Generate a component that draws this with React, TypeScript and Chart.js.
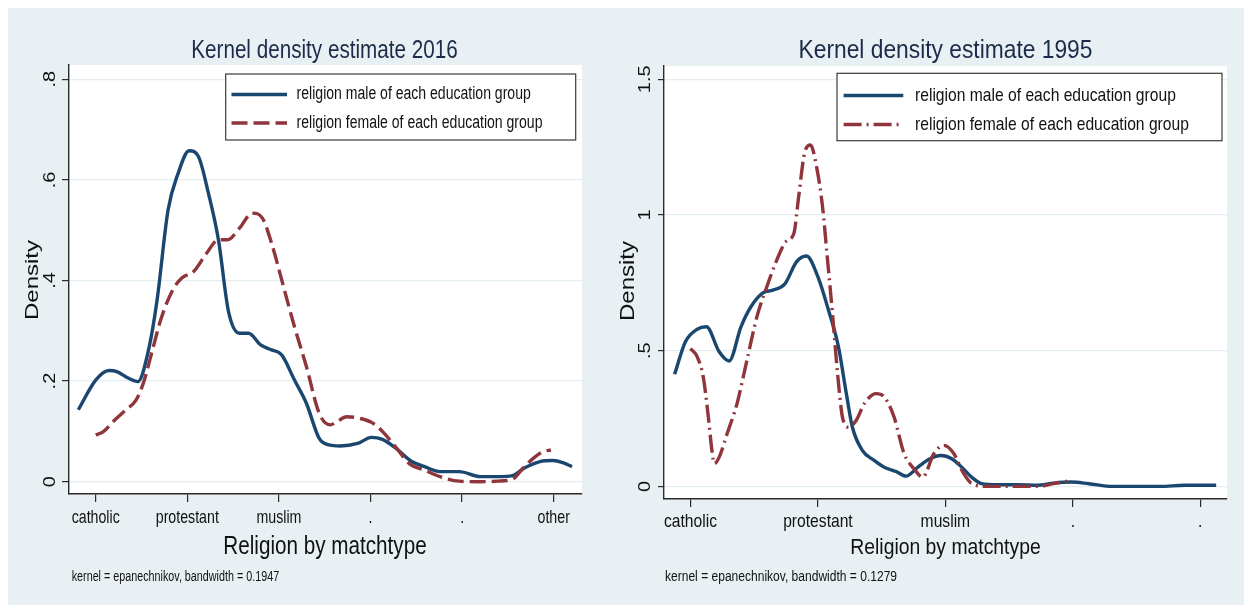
import React, { useEffect, useRef } from "react";
import { Chart, registerables } from "chart.js";

Chart.register(...registerables);

// ---------- data: 2016 panel ----------
const categories2016 = ["catholic", "protestant", "muslim", ".", ".", "other"];
const xTicks2016 = [1, 2, 3, 4, 5, 6];
const yTicks2016 = [0, 0.2, 0.4, 0.6, 0.8];
const yTickLabels2016 = ["0", ".2", ".4", ".6", ".8"];

const male2016X = [0.81, 1.0, 1.146, 1.23, 1.355, 1.46, 1.585, 1.67, 1.79, 1.9, 2.02, 2.12, 2.23, 2.34, 2.45, 2.57, 2.67, 2.8, 2.92, 3.03, 3.17, 3.3, 3.44, 3.55, 3.67, 3.86, 4.01, 4.13, 4.28, 4.45, 4.59, 4.76, 4.97, 5.2, 5.39, 5.55, 5.68, 5.85, 5.99, 6.1, 6.2];
const male2016Y = [0.143, 0.202, 0.221, 0.219, 0.206, 0.199, 0.269, 0.361, 0.54, 0.613, 0.658, 0.647, 0.574, 0.481, 0.338, 0.295, 0.295, 0.272, 0.262, 0.252, 0.202, 0.156, 0.086, 0.073, 0.071, 0.076, 0.088, 0.084, 0.066, 0.04, 0.03, 0.02, 0.02, 0.01, 0.01, 0.012, 0.027, 0.04, 0.042, 0.038, 0.03];

const female2016X = [1.0, 1.08, 1.21, 1.33, 1.44, 1.52, 1.63, 1.71, 1.84, 1.94, 2.07, 2.21, 2.34, 2.44, 2.57, 2.71, 2.82, 2.92, 3.05, 3.17, 3.3, 3.44, 3.56, 3.63, 3.74, 3.88, 4.03, 4.15, 4.3, 4.43, 4.59, 4.76, 4.97, 5.18, 5.39, 5.55, 5.68, 5.8, 5.89, 5.97];
const female2016Y = [0.093, 0.099, 0.123, 0.143, 0.162, 0.196, 0.269, 0.322, 0.381, 0.405, 0.418, 0.454, 0.481, 0.481, 0.504, 0.534, 0.524, 0.474, 0.388, 0.308, 0.229, 0.136, 0.113, 0.119, 0.129, 0.126, 0.116, 0.096, 0.063, 0.035, 0.023, 0.01, 0.001, 0.0, 0.001, 0.005, 0.03, 0.05, 0.06, 0.063];

// ---------- data: 1995 panel ----------
const categories1995 = ["catholic", "protestant", "muslim", ".", "."];
const xTicks1995 = [1, 2, 3, 4, 5];
const yTicks1995 = [0, 0.5, 1, 1.5];
const yTickLabels1995 = ["0", ".5", "1", "1.5"];

const male1995X = [0.875, 0.96, 1.053, 1.125, 1.225, 1.303, 1.396, 1.474, 1.568, 1.646, 1.739, 1.833, 1.911, 2.0, 2.083, 2.161, 2.223, 2.27, 2.348, 2.441, 2.52, 2.613, 2.691, 2.785, 2.878, 2.966, 3.05, 3.128, 3.206, 3.284, 3.409, 3.565, 3.72, 3.846, 3.986, 4.126, 4.313, 4.5, 4.688, 4.875, 5.125];
const male1995Y = [0.413, 0.533, 0.579, 0.588, 0.496, 0.462, 0.588, 0.662, 0.713, 0.723, 0.745, 0.828, 0.849, 0.772, 0.649, 0.514, 0.342, 0.219, 0.133, 0.096, 0.071, 0.055, 0.038, 0.071, 0.102, 0.114, 0.102, 0.071, 0.034, 0.01, 0.006, 0.006, 0.004, 0.012, 0.016, 0.01, 0.0, 0.0, 0.0, 0.004, 0.004];

const female1995X = [1.0, 1.053, 1.1, 1.137, 1.168, 1.187, 1.225, 1.287, 1.365, 1.443, 1.521, 1.599, 1.677, 1.749, 1.811, 1.849, 1.895, 1.942, 1.989, 2.036, 2.073, 2.114, 2.154, 2.192, 2.239, 2.301, 2.364, 2.457, 2.52, 2.597, 2.676, 2.754, 2.822, 2.91, 2.988, 3.066, 3.144, 3.222, 3.346, 3.534, 3.72, 3.846, 3.97];
const female1995Y = [0.508, 0.477, 0.403, 0.268, 0.133, 0.084, 0.108, 0.194, 0.305, 0.465, 0.625, 0.736, 0.834, 0.902, 0.932, 1.068, 1.228, 1.258, 1.178, 1.031, 0.846, 0.637, 0.416, 0.256, 0.219, 0.244, 0.305, 0.342, 0.33, 0.256, 0.121, 0.065, 0.034, 0.121, 0.151, 0.121, 0.047, 0.006, 0, 0, 0, 0.01, 0.02];

const maleLabel = "religion male of each education group";
const femaleLabel = "religion female of each education group";

// ---------- styles ----------
const BG = "#e8f0f3";
const NAVY = "#1a476f";
const MAROON = "#90353b";
const TITLE_COLOR = "#1c2b4a";
const TEXT = "#111111";
const AXIS = "#2a2a2a";
const GRID = "#e3edf2";
const SANS = '"Liberation Sans", Arial, Helvetica, sans-serif';

type Panel = {
  width: number;
  height: number;
  sx: number;
  title: string;
  titleX: number;
  titleY: number;
  titleSize: number;
  categories: string[];
  xTicks: number[];
  yTicks: number[];
  yTickLabels: string[];
  xMin: number;
  xMax: number;
  yMin: number;
  yMax: number;
  maleX: number[];
  maleY: number[];
  femaleX: number[];
  femaleY: number[];
  femaleDash: number[];
  pad: { left: number; top: number; right: number; bottom: number };
  yWidth: number;
  xHeight: number;
  yTickLen: number;
  yLabelX: number;
  xLabelY: number;
  xTickFont: number;
  densityX: number;
  densityY: number;
  xTitleX: number;
  xTitleY: number;
  xTitleSize: number;
  note: string;
  noteX: number;
  noteY: number;
  noteSize: number;
  legendBox: { x: number; y: number; w: number; h: number };
  legendSample: [number, number];
  legendRows: [number, number];
  legendTextX: number;
  legendSize: number;
};

function drawText(
  ctx: CanvasRenderingContext2D,
  text: string,
  x: number,
  y: number,
  size: number,
  sx: number,
  align: CanvasTextAlign,
  baseline: CanvasTextBaseline,
  color: string,
  rotate = false
) {
  ctx.save();
  ctx.translate(x, y);
  ctx.scale(sx, 1);
  if (rotate) ctx.rotate(-Math.PI / 2);
  ctx.font = `${size}px ${SANS}`;
  ctx.fillStyle = color;
  ctx.textAlign = align;
  ctx.textBaseline = baseline;
  ctx.fillText(text, 0, 0);
  ctx.restore();
}

function makeDecor(p: Panel) {
  return {
    id: "decor",
    beforeDraw(chart: any) {
      const { ctx, chartArea: a } = chart;
      ctx.save();
      ctx.fillStyle = "#ffffff";
      ctx.fillRect(a.left, a.top, a.right - a.left, a.bottom - a.top);
      ctx.restore();
    },
    afterDraw(chart: any) {
      const ctx: CanvasRenderingContext2D = chart.ctx;
      const xs = chart.scales.x;
      const ys = chart.scales.y;

      // tick labels placed through the chart's own scales
      p.xTicks.forEach((v, i) => {
        drawText(ctx, p.categories[i], xs.getPixelForValue(v), p.xLabelY, p.xTickFont, p.sx, "center", "middle", TEXT);
      });
      p.yTicks.forEach((v, i) => {
        drawText(ctx, p.yTickLabels[i], p.yLabelX, ys.getPixelForValue(v), 20, p.sx, "center", "middle", TEXT, true);
      });

      drawText(ctx, p.title, p.titleX, p.titleY, p.titleSize, p.sx, "center", "alphabetic", TITLE_COLOR);
      drawText(ctx, "Density", p.densityX, p.densityY, 24, p.sx, "center", "middle", TEXT, true);
      drawText(ctx, "Religion by matchtype", p.xTitleX, p.xTitleY, p.xTitleSize, p.sx, "center", "alphabetic", TEXT);
      drawText(ctx, p.note, p.noteX, p.noteY, p.noteSize, p.sx, "left", "middle", TEXT);

      // legend
      const b = p.legendBox;
      ctx.save();
      ctx.fillStyle = "#ffffff";
      ctx.fillRect(b.x, b.y, b.w, b.h);
      ctx.strokeStyle = "#3a3a3a";
      ctx.lineWidth = 1.2;
      ctx.strokeRect(b.x, b.y, b.w, b.h);
      const entries = [
        { label: maleLabel, color: NAVY, dash: [] as number[] },
        { label: femaleLabel, color: MAROON, dash: p.femaleDash },
      ];
      entries.forEach((e, i) => {
        const y = p.legendRows[i];
        ctx.beginPath();
        ctx.strokeStyle = e.color;
        ctx.lineWidth = 3.4;
        ctx.setLineDash(e.dash);
        ctx.moveTo(p.legendSample[0], y);
        ctx.lineTo(p.legendSample[1], y);
        ctx.stroke();
        ctx.setLineDash([]);
        drawText(ctx, e.label, p.legendTextX, y, p.legendSize, p.sx, "left", "middle", TEXT);
      });
      ctx.restore();
    },
  };
}

function buildConfig(p: Panel): any {
  const toPts = (xs: number[], ys: number[]) => xs.map((x, i) => ({ x, y: ys[i] }));
  return {
    type: "scatter",
    data: {
      datasets: [
        {
          label: maleLabel,
          data: toPts(p.maleX, p.maleY),
          showLine: true,
          borderColor: NAVY,
          backgroundColor: NAVY,
          borderWidth: 3.4,
          pointRadius: 0,
          cubicInterpolationMode: "monotone",
          order: 2,
        },
        {
          label: femaleLabel,
          data: toPts(p.femaleX, p.femaleY),
          showLine: true,
          borderColor: MAROON,
          backgroundColor: MAROON,
          borderWidth: 3.4,
          borderDash: p.femaleDash,
          pointRadius: 0,
          cubicInterpolationMode: "monotone",
          order: 1,
        },
      ],
    },
    options: {
      animation: false,
      responsive: true,
      maintainAspectRatio: false,
      events: [],
      layout: { padding: p.pad },
      plugins: {
        legend: { display: false },
        title: { display: false },
        tooltip: { enabled: false },
      },
      scales: {
        x: {
          type: "linear",
          min: p.xMin,
          max: p.xMax,
          afterBuildTicks: (s: any) => {
            s.ticks = p.xTicks.map((v) => ({ value: v }));
          },
          afterFit: (s: any) => {
            s.height = p.xHeight;
          },
          ticks: { display: false, autoSkip: false },
          grid: { drawOnChartArea: false, tickColor: AXIS, tickLength: 8, lineWidth: 1.2 },
          border: { display: true, color: AXIS, width: 1.4 },
        },
        y: {
          type: "linear",
          min: p.yMin,
          max: p.yMax,
          afterBuildTicks: (s: any) => {
            s.ticks = p.yTicks.map((v) => ({ value: v }));
          },
          afterFit: (s: any) => {
            s.width = p.yWidth;
          },
          ticks: { display: false },
          grid: { color: GRID, lineWidth: 1.2, tickColor: AXIS, tickLength: p.yTickLen },
          border: { display: true, color: AXIS, width: 1.4 },
        },
      },
    },
    plugins: [makeDecor(p)],
  };
}

const panel2016: Panel = {
  width: 604,
  height: 597,
  sx: 0.78,
  title: "Kernel density estimate 2016",
  titleX: 316.5,
  titleY: 50,
  titleSize: 26.5,
  categories: categories2016,
  xTicks: xTicks2016,
  yTicks: yTicks2016,
  yTickLabels: yTickLabels2016,
  xMin: 0.7085,
  xMax: 6.309,
  yMin: -0.0245,
  yMax: 0.8284,
  maleX: male2016X,
  maleY: male2016Y,
  femaleX: female2016X,
  femaleY: female2016Y,
  femaleDash: [16, 6],
  pad: { left: 0, top: 57, right: 30, bottom: 71 },
  yWidth: 61,
  xHeight: 40,
  yTickLen: 7,
  yLabelX: 43,
  xLabelY: 509.5,
  xTickFont: 18.2,
  densityX: 25,
  densityY: 272,
  xTitleX: 317,
  xTitleY: 546.3,
  xTitleSize: 26.5,
  note: "kernel = epanechnikov, bandwidth = 0.1947",
  noteX: 63.7,
  noteY: 569,
  noteSize: 13.8,
  legendBox: { x: 217.7, y: 66, w: 350, h: 66 },
  legendSample: [223.5, 279],
  legendRows: [86.5, 115],
  legendTextX: 288.6,
  legendSize: 18,
};

const panel1995: Panel = {
  width: 632,
  height: 597,
  sx: 0.86,
  title: "Kernel density estimate 1995",
  titleX: 333.5,
  titleY: 50,
  titleSize: 26.5,
  categories: categories1995,
  xTicks: xTicks1995,
  yTicks: yTicks1995,
  yTickLabels: yTickLabels1995,
  xMin: 0.792,
  xMax: 5.21,
  yMin: -0.0464,
  yMax: 1.549,
  maleX: male1995X,
  maleY: male1995Y,
  femaleX: female1995X,
  femaleY: female1995Y,
  femaleDash: [18, 5, 2, 5],
  pad: { left: 0, top: 58, right: 17, bottom: 66 },
  yWidth: 52,
  xHeight: 40,
  yTickLen: 6,
  yLabelX: 33,
  xLabelY: 513.7,
  xTickFont: 18.2,
  densityX: 16,
  densityY: 273,
  xTitleX: 333.5,
  xTitleY: 546.3,
  xTitleSize: 22.5,
  note: "kernel = epanechnikov, bandwidth = 0.1279",
  noteX: 53,
  noteY: 569,
  noteSize: 14,
  legendBox: { x: 225, y: 65.3, w: 385, h: 67.4 },
  legendSample: [231.6, 291.3],
  legendRows: [87.5, 116.5],
  legendTextX: 303,
  legendSize: 18.2,
};

function DensityPanel({ panel }: { panel: Panel }) {
  const ref = useRef<HTMLCanvasElement | null>(null);
  useEffect(() => {
    if (!ref.current) return;
    const chart = new Chart(ref.current, buildConfig(panel));
    return () => chart.destroy();
  }, [panel]);
  return (
    <div style={{ position: "relative", width: panel.width, height: panel.height, flex: "none" }}>
      <canvas ref={ref} />
    </div>
  );
}

export default function App() {
  return (
    <div
      style={{
        position: "fixed",
        left: 8,
        top: 8,
        width: 1236,
        height: 597,
        background: BG,
        display: "flex",
        overflow: "hidden",
      }}
    >
      <DensityPanel panel={panel2016} />
      <DensityPanel panel={panel1995} />
    </div>
  );
}
